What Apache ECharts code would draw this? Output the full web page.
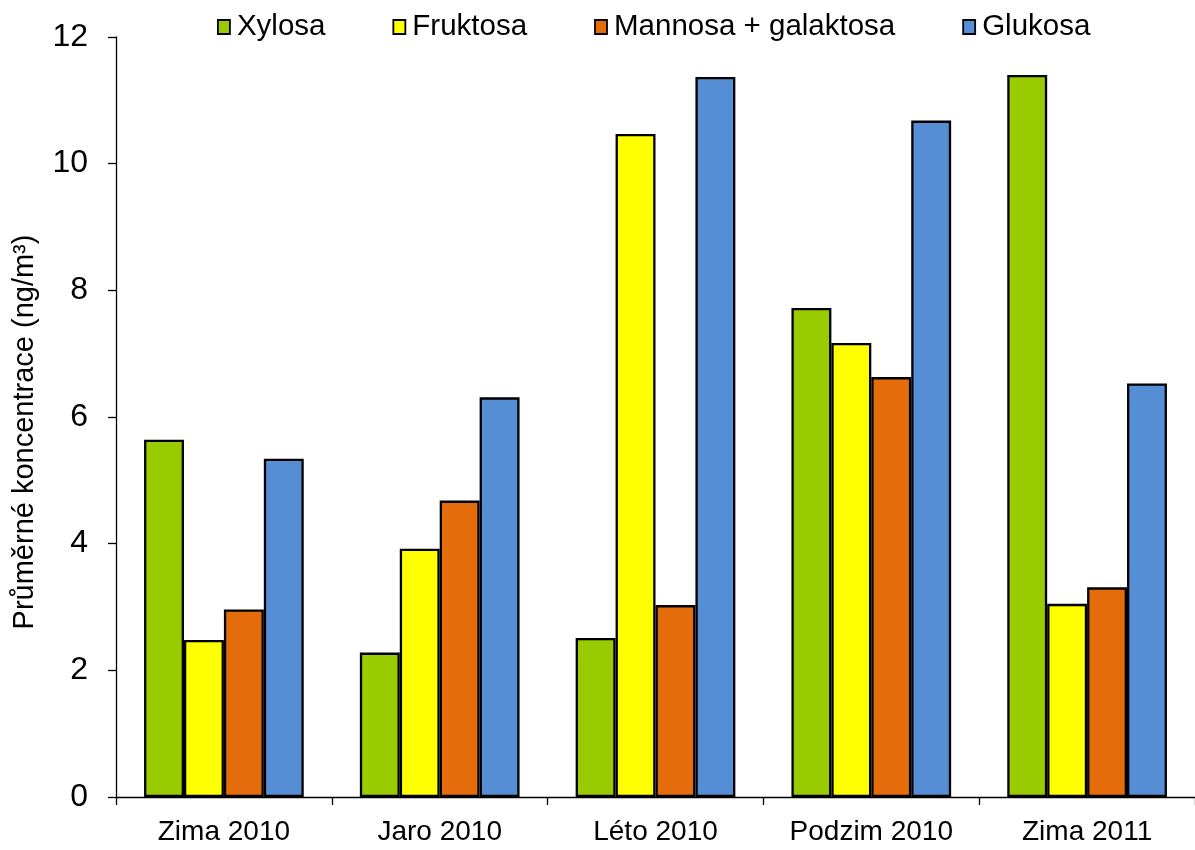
<!DOCTYPE html>
<html>
<head>
<meta charset="utf-8">
<script src="https://cdn.jsdelivr.net/npm/echarts@6/dist/echarts.min.js"></script>
<style>
html,body{margin:0;padding:0;background:#fff;}
#chart{width:1195px;height:850px;}
</style>
</head>
<body>
<div id="chart"></div>
<script>
const categories = ['Zima 2010', 'Jaro 2010', 'Léto 2010', 'Podzim 2010', 'Zima 2011'];
const seriesNames = ['Xylosa', 'Fruktosa', 'Mannosa + galaktosa', 'Glukosa'];
const xylosa = [5.64, 2.28, 2.51, 7.72, 11.40];
const fruktosa = [2.48, 3.92, 10.47, 7.17, 3.05];
const mannosa = [2.96, 4.68, 3.03, 6.63, 3.31];
const glukosa = [5.34, 6.31, 11.37, 10.68, 6.53];
const yTicks = [0, 2, 4, 6, 8, 10, 12];
const yTitle = 'Průměrné koncentrace (ng/m³)';
const colors = ['#99CC00', '#FFFF00', '#E46C0A', '#558ED5'];
const values = [xylosa, fruktosa, mannosa, glukosa];

const font = 'Liberation Sans, Arial, sans-serif';
const chart = echarts.init(document.getElementById('chart'), null, {renderer: 'canvas'});
chart.setOption({
  animation: false,
  backgroundColor: '#fff',
  color: colors,
  grid: {left: 116, right: 0, top: 37, bottom: 53, containLabel: false},
  legend: {
    data: seriesNames,
    left: 212,
    top: 7,
    itemWidth: 12,
    itemHeight: 14,
    itemGap: 67,
    icon: 'rect',
    textStyle: {fontFamily: font, fontSize: 29.5, color: '#000', padding: [0, 0, 0, 2]},
    itemStyle: {borderColor: '#000', borderWidth: 1.8}
  },
  xAxis: {
    type: 'category',
    data: categories,
    boundaryGap: true,
    axisLine: {lineStyle: {color: '#000', width: 1.3}},
    axisTick: {show: true, length: 8, lineStyle: {color: '#000', width: 1.3}},
    axisLabel: {fontFamily: font, fontSize: 28, color: '#000', margin: 21},
    splitLine: {show: false}
  },
  yAxis: {
    type: 'value',
    min: yTicks[0],
    max: yTicks[yTicks.length - 1],
    interval: 2,
    axisLine: {show: true, lineStyle: {color: '#000', width: 1.3}},
    axisTick: {show: true, length: 8, lineStyle: {color: '#000', width: 1.3}},
    axisLabel: {fontFamily: font, fontSize: 32, color: '#000', margin: 28},
    splitLine: {show: false}
  },
  graphic: [{
    type: 'text',
    x: 25,
    y: 432,
    rotation: Math.PI / 2,
    style: {
      text: yTitle,
      fontFamily: font,
      fontSize: 29,
      fill: '#000',
      align: 'center',
      verticalAlign: 'middle'
    }
  }],
  series: seriesNames.map((name, i) => ({
    name: name,
    type: 'bar',
    data: values[i],
    barGap: '0%',
    barCategoryGap: '26%',
    itemStyle: {color: colors[i], borderColor: '#000', borderWidth: 2.3}
  }))
});
</script>
</body>
</html>
